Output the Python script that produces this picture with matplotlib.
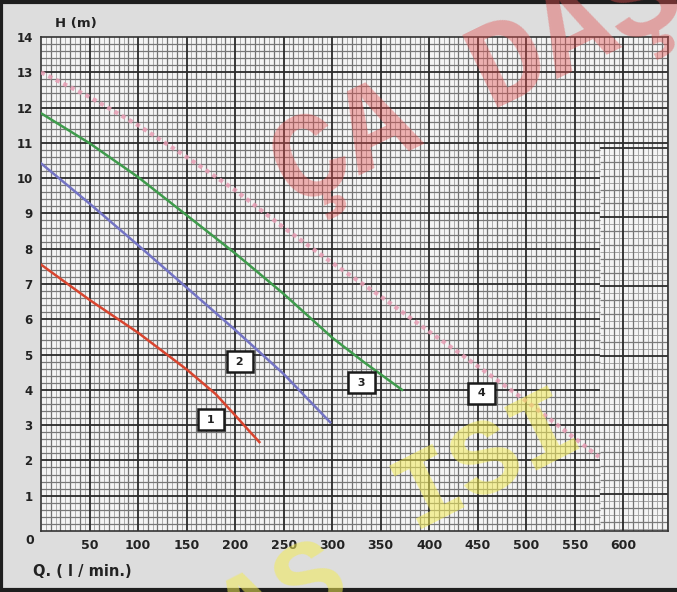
import numpy as np
import matplotlib.pyplot as plt
import matplotlib.lines as mlines

# pump curves: Q (l/min) vs H (m)
q1 = [0, 50, 100, 150, 180, 200, 215, 225]
h1 = [7.55, 6.55, 5.62, 4.58, 3.88, 3.28, 2.82, 2.52]

q2 = [0, 50, 100, 150, 200, 250, 298]
h2 = [10.42, 9.28, 8.1, 6.9, 5.7, 4.45, 3.08]

q3 = [0, 50, 100, 150, 200, 250, 300, 332, 372]
h3 = [11.84, 10.99, 10.03, 8.95, 7.87, 6.72, 5.48, 4.8, 4.0]

q4 = [0, 50, 100, 150, 200, 250, 300, 350, 400, 450, 500, 575]
h4 = [13.0, 12.3, 11.5, 10.6, 9.66, 8.6, 7.6, 6.65, 5.65, 4.67, 3.68, 2.1]

# curve number tags (Q, H)
tag_names = ["1", "2", "3", "4"]
tag_q = [175, 205, 330, 454]
tag_h = [3.15, 4.8, 4.2, 3.9]

x_ticks = [50, 100, 150, 200, 250, 300, 350, 400, 450, 500, 550, 600]
y_ticks = list(range(1, 15))

fig = plt.figure(figsize=(6.77, 5.92), dpi=100, facecolor="#dddddd")
ax = fig.add_axes([41 / 677, 1 - 531 / 592, (668 - 41) / 677, (531 - 37) / 592])
ax.set_facecolor("#f4f4f4")
ax.set_xlim(0, 646)
ax.set_ylim(0, 14)

# graph paper grid
for x in np.arange(5, 646, 5):
    if x % 50 == 0:
        ax.axvline(x, color="#2a2a2a", lw=1.3, zorder=1)
    elif x % 10 == 0:
        ax.axvline(x, color="#727272", lw=0.9, zorder=0.8)
    else:
        ax.axvline(x, color="#ababab", lw=0.7, zorder=0.6)

# the right strip of the scan was patched, its rows differ
strip_q = 576
strip_top = 10.85
for i in range(1, 70):
    y = i / 5
    x_end = 646 if y > strip_top else strip_q
    if i % 5 == 0:
        ax.hlines(y, 0, x_end, color="#2a2a2a", lw=1.3, zorder=1)
    else:
        ax.hlines(y, 0, x_end, color="#777777", lw=0.9, zorder=0.8)
for i, y in enumerate(np.arange(0.07, strip_top + 0.01, 0.196)):
    if i % 10 == 5:
        ax.hlines(y, strip_q, 646, color="#2a2a2a", lw=1.3, zorder=1)
    elif i % 2 == 1:
        ax.hlines(y, strip_q, 646, color="#7a7a7a", lw=0.9, zorder=0.8)
    else:
        ax.hlines(y, strip_q, 646, color="#a5a5a5", lw=0.7, zorder=0.7)

for s in ax.spines.values():
    s.set_color("#333333")
    s.set_linewidth(1.2)

ax.plot(q4, h4, color="#e89db4", lw=3.0, ls=(0, (1, 1)), alpha=0.85, zorder=3)
ax.plot(q3, h3, color="#3f9b4c", lw=1.8, zorder=3, solid_joinstyle="round")
ax.plot(q2, h2, color="#7474c4", lw=1.8, zorder=3, solid_joinstyle="round")
ax.plot(q1, h1, color="#d8452f", lw=1.8, zorder=3, solid_joinstyle="round")

for name, q, h in zip(tag_names, tag_q, tag_h):
    ax.text(q, h, " " + name + " ", ha="center", va="center", fontsize=8, fontweight="bold",
            color="#222222", zorder=5,
            bbox=dict(boxstyle="square,pad=0.5", fc="white", ec="#1a1a1a", lw=1.8))

ax.set_xticks(x_ticks)
ax.set_xticklabels([str(v) for v in x_ticks])
ax.set_yticks(y_ticks)
ax.set_yticklabels([str(v) for v in y_ticks])
ax.tick_params(length=0, pad=6, labelcolor="#222222")
for lab in ax.get_xticklabels():
    lab.set_fontsize(9)
    lab.set_fontweight("bold")
for lab in ax.get_yticklabels():
    lab.set_fontsize(8.5)
    lab.set_fontweight("bold")

fig.text(30 / 677, 1 - 541 / 592, "0", ha="center", va="center",
         fontsize=9, fontweight="bold", color="#222222")
fig.text(55 / 677, 1 - 23 / 592, "H (m)", ha="left", va="center",
         fontsize=9.5, fontweight="bold", color="#222222")
fig.text(33 / 677, 1 - 571 / 592, "Q. ( l / min.)", ha="left", va="center",
         fontsize=10.5, fontweight="bold", color="#222222")

# watermarks
fig.text(478 / 677, 1 - 84 / 592, "ÇA DAŞ", ha="center", va="center", rotation=26,
         family="Liberation Mono", fontweight="bold", fontsize=88,
         color="#e25050", alpha=0.42, zorder=10)
fig.text(487 / 677, 1 - 460 / 592, "ISI", ha="center", va="center", rotation=27,
         family="Liberation Mono", fontweight="bold", fontsize=78,
         color="#f2ea55", alpha=0.55, zorder=10)
fig.text(283 / 677, 1 - 600 / 592, "AS", ha="center", va="center", rotation=27,
         family="Liberation Mono", fontweight="bold", fontsize=78,
         color="#f2ea55", alpha=0.55, zorder=10)

# outer frame (left, top, bottom)
for xs, ys in [([0.002, 0.002], [0, 1]), ([0, 1], [0.997, 0.997]), ([0, 1], [0.003, 0.003])]:
    fig.add_artist(mlines.Line2D(xs, ys, color="#1e1e1e", lw=3, transform=fig.transFigure))

fig.savefig("out.png", dpi=100, facecolor=fig.get_facecolor())
